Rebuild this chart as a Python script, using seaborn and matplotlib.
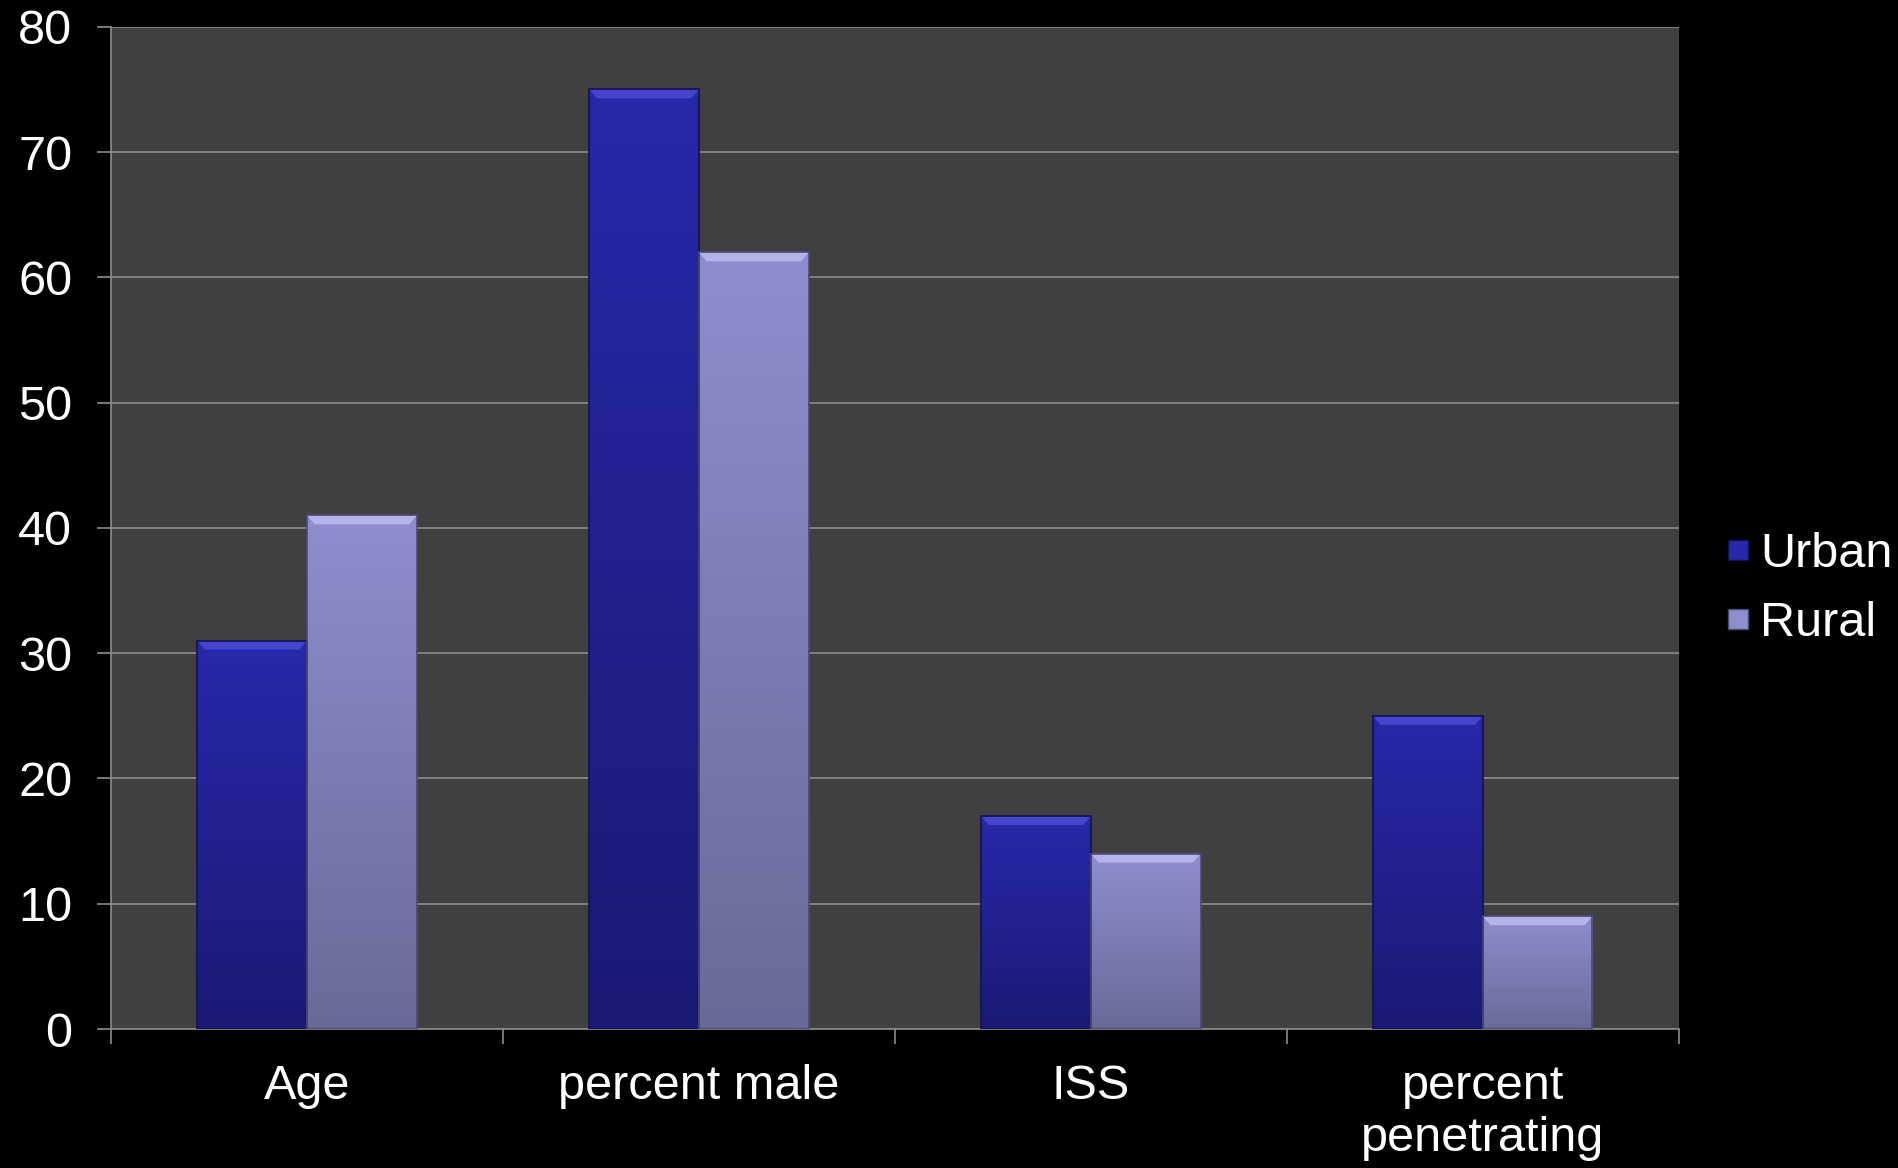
import numpy as np
import pandas as pd
import matplotlib
matplotlib.use("Agg")
import matplotlib.pyplot as plt
import seaborn as sns
from matplotlib.colors import LinearSegmentedColormap
from matplotlib.lines import Line2D
from matplotlib.patches import Polygon

# ---- data ----
categories = ["Age", "percent male", "ISS", "percent\npenetrating"]
series = ["Urban", "Rural"]
urban = [31, 75, 17, 25]
rural = [41, 62, 14, 9]
yticks = [0, 10, 20, 30, 40, 50, 60, 70, 80]

df = pd.DataFrame({
    "category": categories * 2,
    "group": ["Urban"] * len(categories) + ["Rural"] * len(categories),
    "value": urban + rural,
})

# ---- style ----
base_colors = {"Urban": "#22229a", "Rural": "#8484bc"}
grad = {"Urban": ("#2828aa", "#1a1a74"), "Rural": ("#8e8ece", "#6a6a98")}
bevel = {"Urban": "#4444cc", "Rural": "#b4b4ea"}
edge = {"Urban": "#121250", "Rural": "#4a4a78"}
FS = 35

sns.set_theme(style="dark")
plt.rcParams["font.family"] = ["Liberation Sans", "DejaVu Sans"]

fig = plt.figure(figsize=(18.99, 11.68), dpi=100, facecolor="black")
ax = fig.add_axes([0.0585, 0.119, 0.8255, 0.858])
ax.set_facecolor("#404040")

sns.barplot(data=df, x="category", y="value", hue="group", order=categories,
            hue_order=series, palette=base_colors, width=0.56, saturation=1,
            legend=False, ax=ax, linewidth=0, zorder=3)

ax.set_xlim(-0.5, len(categories) - 0.5)
ax.set_ylim(0, 80)

# gradient + bevel on each bar produced by seaborn
n = len(categories)
bars = [p for p in ax.patches if p.get_height() > 0]
px_per_unit = (0.858 * 1168) / 80.0
for i, p in enumerate(bars):
    g = series[i // n]
    x0, y0 = p.get_x(), p.get_y()
    w, h = p.get_width(), p.get_height()
    cmap = LinearSegmentedColormap.from_list("g", [grad[g][1], grad[g][0]])
    img = ax.imshow(np.linspace(0, 1, 256).reshape(-1, 1), cmap=cmap,
                    extent=(x0, x0 + w, y0, y0 + h), origin="lower",
                    aspect="auto", zorder=4)
    img.set_clip_path(p)
    bh = 9.0 / px_per_unit
    bw = w * 0.07
    top = y0 + h
    ax.add_patch(Polygon([[x0, top], [x0 + w, top], [x0 + w - bw, top - bh],
                          [x0 + bw, top - bh]], closed=True,
                         facecolor=bevel[g], edgecolor="none", zorder=5))
    ax.add_patch(matplotlib.patches.Rectangle((x0, y0), w, h, fill=False,
                                              edgecolor=edge[g], linewidth=1.2,
                                              zorder=6))
ax.set_xlim(-0.5, len(categories) - 0.5)
ax.set_ylim(0, 80)

# grid + spines
ax.set_yticks(yticks)
ax.set_yticklabels([str(v) for v in yticks])
ax.yaxis.grid(True, color="#8c8c8c", linewidth=1.2, zorder=1)
ax.xaxis.grid(False)
ax.set_axisbelow(True)
for s in ["top", "right"]:
    ax.spines[s].set_visible(False)
for s in ["left", "bottom"]:
    ax.spines[s].set_visible(True)
    ax.spines[s].set_color("#8c8c8c")
    ax.spines[s].set_linewidth(1.2)

ax.set_xticks(np.arange(-0.5, len(categories), 1.0))
ax.set_xticklabels([""] * (len(categories) + 1))
ax.set_xticks(np.arange(len(categories)), minor=True)
ax.set_xticklabels(categories, minor=True, fontsize=FS, color="white",
                   linespacing=1.22)
ax.tick_params(axis="x", which="major", length=11, width=1.2,
               color="#8c8c8c", direction="out", bottom=True)
ax.tick_params(axis="x", which="minor", length=0, pad=25, bottom=True)
ax.tick_params(axis="y", length=10, width=1.2, color="#8c8c8c",
               direction="out", left=True, pad=18, labelsize=FS,
               labelcolor="white")
ax.set_xlabel("")
ax.set_ylabel("")

handles = [Line2D([0], [0], marker="s", linestyle="none", markersize=15,
                  markerfacecolor=grad[g][0], markeredgecolor=edge[g],
                  markeredgewidth=1.0) for g in series]
fig.legend(handles, series, loc="center left",
           bbox_to_anchor=(1699 / 1899, 1 - 589 / 1168), frameon=False,
           fontsize=FS, labelcolor="white", handlelength=0.6,
           handletextpad=0.15, labelspacing=0.5, borderpad=0)

fig.savefig("out.png", dpi=100, facecolor="black")
